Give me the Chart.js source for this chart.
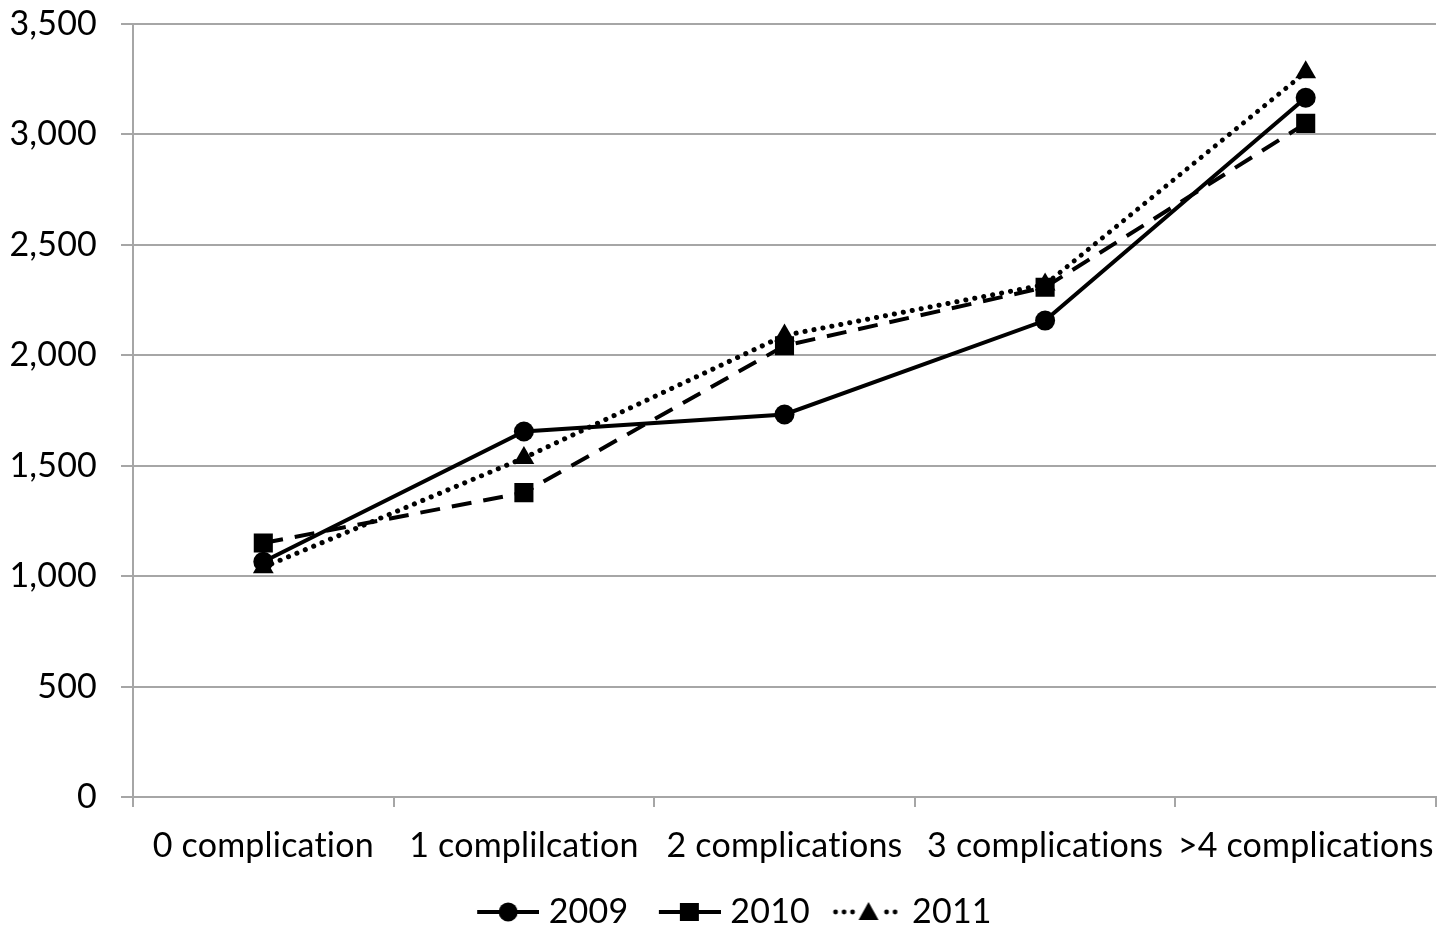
<!DOCTYPE html>
<html>
<head>
<meta charset="utf-8">
<script src="https://cdn.jsdelivr.net/npm/chart.js@4/dist/chart.umd.min.js"></script>
<style>
  html, body { margin: 0; padding: 0; background: #ffffff; }
  #wrap { width: 1454px; height: 926px; }
  canvas { font-variant-ligatures: none; }
</style>
</head>
<body>
<div id="wrap"><canvas id="costChart" width="1454" height="926"></canvas></div>
<script>
// ====================================================
// Chart data
// ====================================================
const categories = ['0 complication', '1 complilcation', '2 complications', '3 complications', '>4 complications'];
const seriesNames = ['2009', '2010', '2011'];
const values2009 = [1065, 1655, 1732, 2157, 3166];
const values2010 = [1150, 1378, 2043, 2308, 3050];
const values2011 = [1040, 1535, 2090, 2320, 3282];
const yTicks = [0, 500, 1000, 1500, 2000, 2500, 3000, 3500];

const fontFamily = 'Lato, "Open Sans", sans-serif';
const fontSize = 34;
const gridGray = '#a6a6a6';

// ====================================================
// Legend swatches: line + marker drawn on small canvases
// ====================================================
const swatchW = 100;
const swatchH = 26;

function makeSwatch(kind) {
    const c = document.createElement('canvas');
    c.width = swatchW;
    c.height = swatchH;
    const ctx = c.getContext('2d');
    const cy = swatchH / 2;
    ctx.fillStyle = '#000';
    ctx.strokeStyle = '#000';

    if (kind === 'circle') {
        ctx.lineWidth = 4;
        ctx.beginPath(); ctx.moveTo(38, cy); ctx.lineTo(100, cy); ctx.stroke();
        ctx.beginPath(); ctx.arc(69, cy, 9.5, 0, Math.PI * 2); ctx.fill();
    } else if (kind === 'rect') {
        ctx.lineWidth = 4;
        ctx.beginPath(); ctx.moveTo(38, cy); ctx.lineTo(100, cy); ctx.stroke();
        ctx.fillRect(59, cy - 9, 19, 18);
    } else {
        for (let x = 33; x <= 99; x += 8.5) {
            if (Math.abs(x - 66) < 10) continue;
            ctx.beginPath(); ctx.arc(x, cy, 2.4, 0, Math.PI * 2); ctx.fill();
        }
        ctx.beginPath();
        ctx.moveTo(66, cy - 10); ctx.lineTo(76, cy + 8); ctx.lineTo(56, cy + 8);
        ctx.closePath(); ctx.fill();
    }
    return c;
}

const swatches = [makeSwatch('circle'), makeSwatch('rect'), makeSwatch('triangle')];

// Tiny letter spacing keeps the canvas from joining "ti" into a ligature
const noLigatures = {
    id: 'noLigatures',
    beforeDraw: (chart) => {
        if ('letterSpacing' in chart.ctx) chart.ctx.letterSpacing = '0.2px';
    }
};

// ====================================================
// Build chart
// ====================================================
function initializeChart() {
    const ctx = document.getElementById('costChart');

    new Chart(ctx, {
        type: 'line',
        plugins: [noLigatures],
        data: {
            labels: categories,
            datasets: [{
                label: seriesNames[0],
                data: values2009,
                borderColor: '#000',
                backgroundColor: '#000',
                borderWidth: 4,
                pointStyle: 'circle',
                pointRadius: 10,
                pointBorderWidth: 0,
                tension: 0
            }, {
                label: seriesNames[1],
                data: values2010,
                borderColor: '#000',
                backgroundColor: '#000',
                borderWidth: 4,
                borderDash: [20, 12],
                pointStyle: 'rect',
                pointRadius: 13.5,
                pointBorderWidth: 0,
                tension: 0
            }, {
                label: seriesNames[2],
                data: values2011,
                borderColor: '#000',
                backgroundColor: '#000',
                borderWidth: 5,
                borderDash: [0.1, 9],
                borderCapStyle: 'round',
                pointStyle: 'triangle',
                pointRadius: 12,
                pointBorderWidth: 0,
                tension: 0
            }]
        },
        options: {
            responsive: false,
            animation: false,
            devicePixelRatio: 1,
            layout: {
                padding: { left: 0, right: 18, top: 24, bottom: -13 }
            },
            plugins: {
                tooltip: { enabled: false },
                legend: {
                    display: true,
                    position: 'bottom',
                    labels: {
                        usePointStyle: true,
                        pointStyleWidth: 85,
                        padding: 0,
                        color: '#000',
                        font: { family: fontFamily, size: fontSize },
                        generateLabels: (chart) => chart.data.datasets.map((ds, i) => ({
                            text: ds.label,
                            pointStyle: swatches[i],
                            fillStyle: '#000',
                            strokeStyle: '#000',
                            lineWidth: 0,
                            hidden: false,
                            datasetIndex: i,
                            fontColor: '#000'
                        }))
                    }
                }
            },
            scales: {
                x: {
                    type: 'category',
                    offset: true,
                    afterFit: (scale) => {
                        scale.height = 98;
                        scale.paddingLeft = 0;
                        scale.paddingRight = 0;
                    },
                    border: { display: true, color: gridGray, width: 2 },
                    grid: {
                        display: true,
                        offset: true,
                        drawOnChartArea: false,
                        drawTicks: true,
                        tickLength: 10,
                        color: gridGray,
                        lineWidth: 2
                    },
                    ticks: {
                        autoSkip: false,
                        maxRotation: 0,
                        minRotation: 0,
                        padding: 19,
                        color: '#000',
                        font: { family: fontFamily, size: fontSize }
                    }
                },
                y: {
                    min: 0,
                    max: 3500,
                    afterFit: (scale) => {
                        scale.width = 133;
                        scale.paddingTop = 0;
                        scale.paddingBottom = 0;
                    },
                    afterBuildTicks: (scale) => {
                        scale.ticks = yTicks.map(v => ({ value: v }));
                    },
                    border: { display: true, color: gridGray, width: 2 },
                    grid: {
                        color: gridGray,
                        lineWidth: 2,
                        drawTicks: true,
                        tickLength: 12
                    },
                    ticks: {
                        padding: 24,
                        color: '#000',
                        font: { family: fontFamily, size: fontSize },
                        callback: (value) => value.toLocaleString('en-US')
                    }
                }
            }
        }
    });
}

initializeChart();
</script>
</body>
</html>
